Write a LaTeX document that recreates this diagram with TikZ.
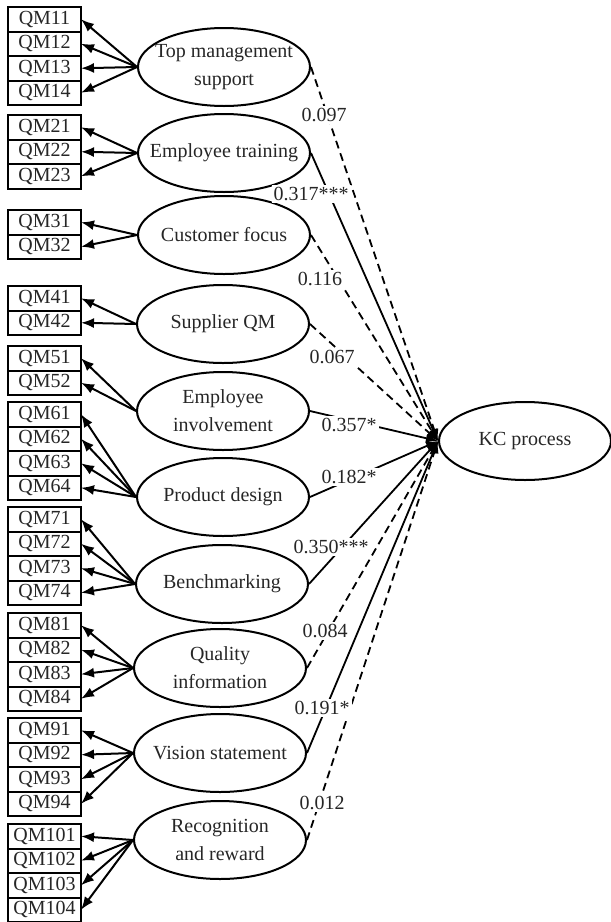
\documentclass[tikz,border=0pt]{standalone}
\usepackage{fontspec}
\setmainfont{Liberation Serif}
\usetikzlibrary{arrows.meta, positioning, shapes.geometric}
\tikzset{
  >=latex,
  % indicatori (rettangoli)
  indicator/.style={draw,line width=1pt,rectangle,minimum width=36.5pt,minimum height=12.25pt,
    inner sep=0pt,outer sep=0pt,font=\fontsize{10}{12}\selectfont,text=black!85},
  % variabili latenti
  latent/.style={draw,line width=1pt,ellipse,minimum width=86pt,minimum height=39pt,inner sep=0pt},
  latent text/.style={font=\fontsize{10}{14}\selectfont,align=center,text=black!85},
  % frecce
  loading/.style={-{Latex[length=6.5pt,width=5pt]},line width=1pt},
  path sig/.style={-{Latex[length=6pt,width=4.5pt]},line width=0.9pt},
  path ns/.style={path sig,dash pattern=on 4pt off 2.5pt},
  coef/.style={fill=white,inner sep=1pt,font=\fontsize{10}{12}\selectfont,text=black!85}
}
\begin{document}
\begin{tikzpicture}[x=0.5pt,y=-0.5pt]
        \useasboundingbox (0,0) rectangle (611,922);
        \node[latent,label={[latent text]center:{Top management\\support}}] (f1) at (224,67) {};
        \node[latent,label={[latent text]center:Employee training}] (f2) at (224,153) {};
        \node[latent,label={[latent text]center:Customer focus}] (f3) at (224,235) {};
        \node[latent,label={[latent text]center:Supplier QM}] (f4) at (223,324) {};
        \node[latent,label={[latent text]center:{Employee\\involvement}}] (f5) at (223,411) {};
        \node[latent,label={[latent text]center:Product design}] (f6) at (223,497) {};
        \node[latent,label={[latent text]center:Benchmarking}] (f7) at (222,584) {};
        \node[latent,label={[latent text]center:{Quality\\information}}] (f8) at (220,668) {};
        \node[latent,label={[latent text]center:Vision statement}] (f9) at (220,753) {};
        \node[latent,label={[latent text]center:{Recognition\\and reward}}] (f10) at (220,840) {};
        \node[latent,label={[latent text]center:KC process}] (kc) at (525,441) {};
        \foreach \g/\n/\top in {1/4/7, 2/3/115, 3/2/210, 4/2/286, 5/2/346,
                                6/4/402, 7/4/507, 8/4/613, 9/4/718, 10/4/824}{
          \node[indicator] (q\g1) at (44.5,\top+12.25) {QM\g1};
          \foreach \i in {2,...,\n}{
            \pgfmathtruncatemacro{\p}{\i-1}
            \node[indicator,below=0pt of q\g\p] (q\g\i) {QM\g\i};
          }
          \foreach \i in {1,...,\n}{
            \draw[loading] (f\g.west) -- (q\g\i.east);
          }
        }
        \draw[path ns] (f1.east) -- (kc.west);
        \draw[path sig] (f2.east) -- (kc.west);
        \draw[path ns] (f3.east) -- (kc.west);
        \draw[path ns] (f4.east) -- (kc.west);
        \draw[path sig] (f5.east) -- (kc.west);
        \draw[path sig] (f6.east) -- (kc.west);
        \draw[path sig] (f7.east) -- (kc.west);
        \draw[path ns] (f8.east) -- (kc.west);
        \draw[path sig] (f9.east) -- (kc.west);
        \draw[path ns] (f10.east) -- (kc.west);
        \foreach \px/\py/\c [count=\k] in {324/115/0.097, 311/194/0.317***, 320/279/0.116,
                                           332/357/0.067, 349/425/0.357*, 349/477/0.182*,
                                           331/547/0.350***, 325/631/0.084, 322/708/0.191*,
                                           322/803/0.012}{
          \node[coef] (c\k) at (\px,\py) {\c};
        }
      \end{tikzpicture}
\end{document}
